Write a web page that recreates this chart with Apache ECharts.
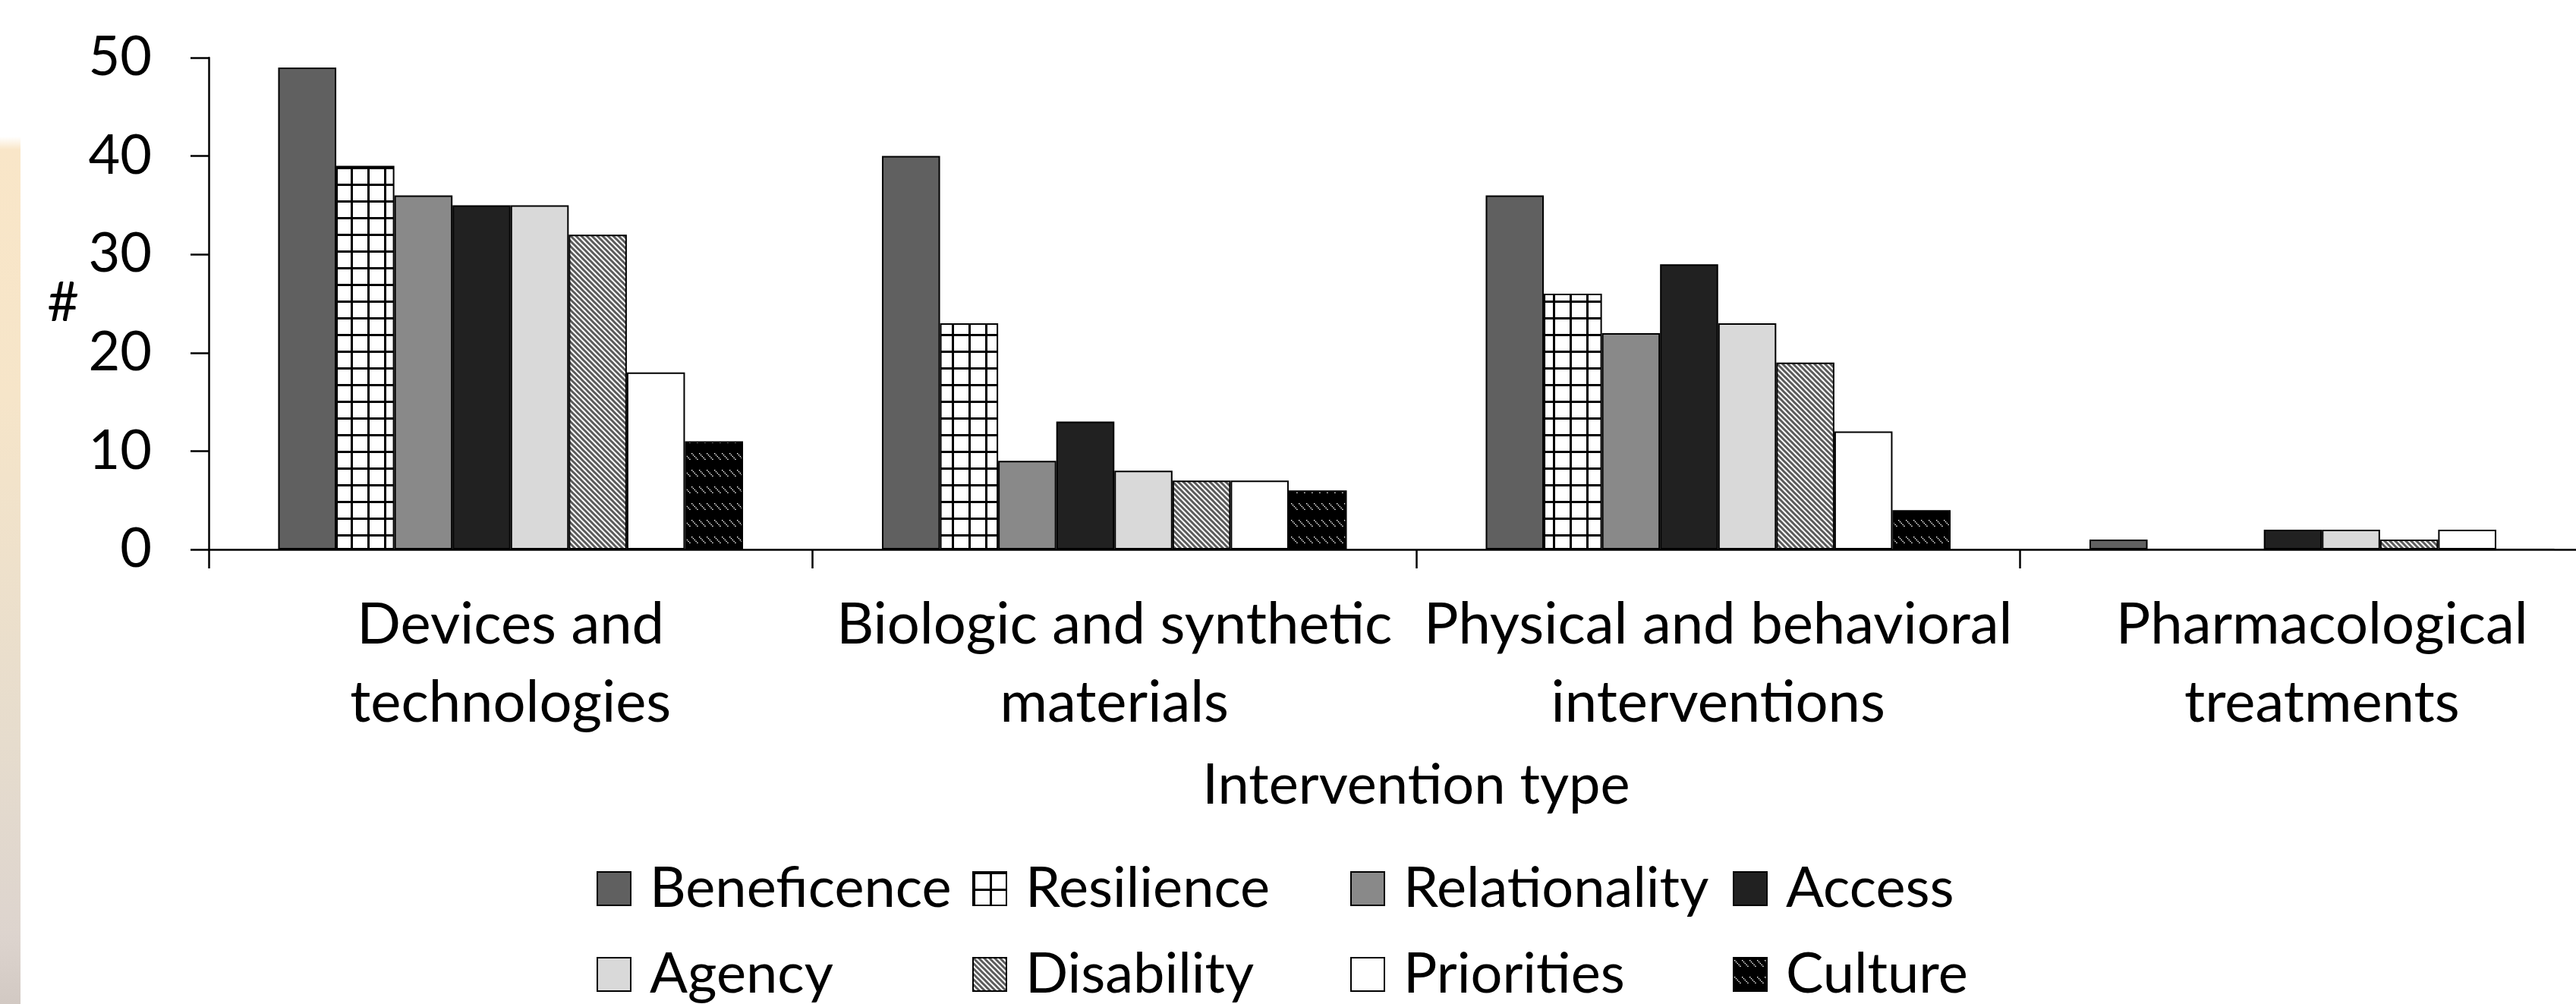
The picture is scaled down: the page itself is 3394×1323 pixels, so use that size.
<!DOCTYPE html>
<html>
<head>
<meta charset="utf-8">
<script src="https://cdn.jsdelivr.net/npm/echarts@6/dist/echarts.min.js"></script>
<style>
  html, body { margin: 0; padding: 0; background: #fff; }
  #chart { width: 3394px; height: 1323px; }
</style>
</head>
<body>
<div id="chart"></div>
<script>
const categories = ['Devices and\ntechnologies', 'Biologic and synthetic\nmaterials', 'Physical and behavioral\ninterventions', 'Pharmacological\ntreatments']
const seriesNames = ['Beneficence', 'Resilience', 'Relationality', 'Access', 'Agency', 'Disability', 'Priorities', 'Culture']
const beneficence = [49, 40, 36, 1]
const resilience = [39, 23, 26, 0]
const relationality = [36, 9, 22, 0]
const access = [35, 13, 29, 2]
const agency = [35, 8, 23, 2]
const disability = [32, 7, 19, 1]
const priorities = [18, 7, 12, 2]
const culture = [11, 6, 4, 0]
const yTicks = [0, 10, 20, 30, 40, 50]

const values = [beneficence, resilience, relationality, access, agency, disability, priorities, culture]
const FONT = 'Lato'

function tile(w, h, draw) {
  const c = document.createElement('canvas')
  c.width = w
  c.height = h
  draw(c.getContext('2d'), w, h)
  return { image: c, repeat: 'repeat' }
}

// square grid (Resilience)
const gridPattern = tile(22, 22, (ctx, w, h) => {
  ctx.fillStyle = '#fff'
  ctx.fillRect(0, 0, w, h)
  ctx.fillStyle = '#000'
  ctx.fillRect(0, 0, 3, h)
  ctx.fillRect(0, 0, w, 3)
})

// fine diagonal stripes (Disability)
const stripePattern = tile(7, 7, (ctx, w, h) => {
  ctx.fillStyle = '#fff'
  ctx.fillRect(0, 0, w, h)
  ctx.strokeStyle = '#5a5a5a'
  ctx.lineWidth = 3
  for (const k of [-1, 0, 1]) {
    ctx.beginPath()
    ctx.moveTo(-2, k * w - 2)
    ctx.lineTo(w + 2, k * w + w + 2)
    ctx.stroke()
  }
})

// black with rows of small white dashes (Culture)
const dashPattern = tile(10, 22, (ctx, w, h) => {
  ctx.fillStyle = '#000'
  ctx.fillRect(0, 0, w, h)
  ctx.fillStyle = '#fff'
  for (let i = 0; i < 5; i++) {
    ctx.fillRect(1 + i * 1.8, 3 + i * 1.9, 1.4, 1.4)
  }
})

const fills = ['#606060', gridPattern, '#898989', '#212121', '#d9d9d9', stripePattern, '#ffffff', dashPattern]

const chart = echarts.init(document.getElementById('chart'))

const legendLeft = [786, 1281, 1779, 2283]
const legendTop = [1134, 1247]

const option = {
  backgroundColor: '#fff',
  animation: false,
  textStyle: { fontFamily: FONT },
  graphic: [
    {
      type: 'rect',
      left: 0,
      top: 180,
      z: -10,
      shape: { width: 27, height: 1143 },
      style: {
        fill: new echarts.graphic.LinearGradient(0, 0, 0, 1, [
          { offset: 0, color: 'rgba(250,231,200,0)' },
          { offset: 0.015, color: '#f9e6c8' },
          { offset: 0.3, color: '#f6e5c9' },
          { offset: 0.7, color: '#e6dccd' },
          { offset: 0.92, color: '#ddd4ce' },
          { offset: 1, color: '#d2c9c3' },
        ]),
      },
    },
  ],
  grid: { left: 275, top: 76, height: 648, width: 3182, outerBoundsMode: 'none', containLabel: false },
  legend: seriesNames.map((name, i) => ({
    data: [name],
    left: legendLeft[i % 4],
    top: legendTop[Math.floor(i / 4)],
    padding: 0,
    icon: 'rect',
    itemWidth: 44,
    itemHeight: 44,
    selectedMode: false,
    textStyle: { fontFamily: FONT, fontSize: 74, lineHeight: 44, color: '#000', padding: [0, 0, 0, 20] },
  })),
  xAxis: {
    type: 'category',
    data: categories,
    name: 'Intervention type',
    nameLocation: 'middle',
    nameGap: 268,
    nameTextStyle: { fontFamily: FONT, fontSize: 74, color: '#000', lineHeight: 86 },
    axisLine: { lineStyle: { color: '#000', width: 2.5 } },
    axisTick: { show: true, length: 25, lineStyle: { color: '#000', width: 2.5 } },
    axisLabel: { margin: 48, fontFamily: FONT, fontSize: 76, color: '#000', lineHeight: 103, interval: 0 },
  },
  yAxis: {
    type: 'value',
    min: yTicks[0],
    max: yTicks[yTicks.length - 1],
    interval: 10,
    name: '#',
    nameLocation: 'middle',
    nameRotate: 0,
    nameGap: 171,
    nameTextStyle: { fontFamily: FONT, fontSize: 72, color: '#000' },
    axisLine: { show: true, lineStyle: { color: '#000', width: 2.5 } },
    axisTick: { show: true, length: 24, lineStyle: { color: '#000', width: 2.5 } },
    axisLabel: { margin: 75, fontFamily: FONT, fontSize: 72, color: '#000' },
    splitLine: { show: false },
  },
  series: seriesNames.map((name, i) => ({
    name,
    type: 'bar',
    data: values[i],
    barGap: '0%',
    barCategoryGap: '23%',
    itemStyle: { color: fills[i], borderColor: '#000', borderWidth: 2 },
  })),
}

chart.setOption(option)
</script>
</body>
</html>
